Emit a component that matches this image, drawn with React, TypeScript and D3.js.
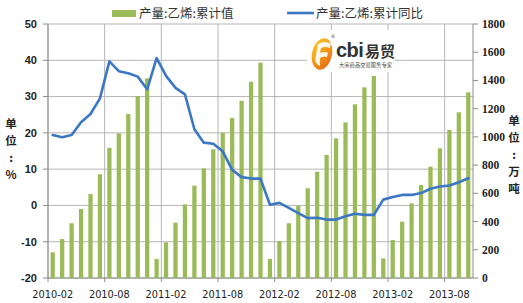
import React from "react";
import * as d3 from "d3";

const categories = [
  "2010-02","2010-03","2010-04","2010-05","2010-06","2010-07","2010-08","2010-09","2010-10","2010-11","2010-12",
  "2011-01","2011-02","2011-03","2011-04","2011-05","2011-06","2011-07","2011-08","2011-09","2011-10","2011-11","2011-12",
  "2012-01","2012-02","2012-03","2012-04","2012-05","2012-06","2012-07","2012-08","2012-09","2012-10","2012-11","2012-12",
  "2013-01","2013-02","2013-03","2013-04","2013-05","2013-06","2013-07","2013-08","2013-09","2013-10"
];

// 产量:乙烯:累计值 (万吨, right axis)
const cumulativeValue = [
  182, 276, 388, 489, 595, 735, 923, 1025, 1162, 1290, 1415,
  135, 253, 392, 522, 654, 777, 912, 1030, 1134, 1256, 1391, 1526,
  135, 262, 388, 512, 636, 753, 872, 990, 1103, 1231, 1351, 1432,
  139, 269, 399, 529, 659, 789, 919, 1049, 1174, 1316
];

// 产量:乙烯:累计同比 (%, left axis)
const cumulativeYoY = [
  19.4, 18.8, 19.4, 22.9, 25.2, 29.5, 39.7, 37.0, 36.4, 35.5, 32.0,
  40.6, 35.7, 32.4, 30.6, 21.0, 17.3, 17.0, 14.9, 9.8, 7.8, 7.4, 7.4,
  0.2, 0.7, -0.7, -2.1, -3.5, -3.4, -3.9, -3.9, -3.0, -2.3, -2.6, -2.6,
  1.6, 2.3, 2.9, 2.9, 3.4, 4.6, 5.2, 5.5, 6.4, 7.5
];

const leftTicks = [-20, -10, 0, 10, 20, 30, 40, 50];
const rightTicks = [0, 200, 400, 600, 800, 1000, 1200, 1400, 1600, 1800];
const xLabelEvery = 6;

const legendBar = "产量:乙烯:累计值";
const legendLine = "产量:乙烯:累计同比";
const leftTitle = ["单", "位", ":", "%"];
const rightTitle = ["单", "位", ":", "万", "吨"];

const W = 523, H = 303;
const L = 48, R = 473, T = 24, B = 278;
const BAR = "#9BBB59";
const LINE = "#3C77C4";
const GRID = "#b5b5b5";

export default function App() {
  const x = d3.scaleBand<string>().domain(categories).range([L, R]).paddingInner(0.55).paddingOuter(0.275);
  const step = x.step();
  const bw = x.bandwidth();
  const cx = (c: string) => (x(c) as number) + bw / 2;
  const yL = d3.scaleLinear().domain([-20, 50]).range([B, T]);
  const yR = d3.scaleLinear().domain([0, 1800]).range([B, T]);

  const line = d3.line<number>()
    .x((_, i) => cx(categories[i]))
    .y((v) => yL(v));

  const vLines: number[] = [];
  for (let i = 0; i < categories.length; i += xLabelEvery) vLines.push(L + step * i);

  const leftY = [124, 141, 158, 175];
  const rightY = [121, 138, 155, 172, 189];

  return (
    <svg width={W} height={H} style={{ position: "absolute", left: 0, top: 0, background: "#fff" }}>
      <rect x={0} y={0} width={W} height={H} fill="#fff" />
      {/* horizontal grid */}
      {leftTicks.map((t) => (
        <line key={"h" + t} x1={L} x2={R} y1={yL(t)} y2={yL(t)} stroke={GRID} strokeWidth={1} />
      ))}
      {/* vertical grid */}
      {vLines.map((v, i) => (
        <line key={"v" + i} x1={v} x2={v} y1={T} y2={B} stroke={GRID} strokeWidth={1} />
      ))}
      {/* axes */}
      <line x1={L} x2={L} y1={T} y2={B} stroke="#8c8c8c" />
      <line x1={R} x2={R} y1={T} y2={B} stroke="#8c8c8c" />
      <line x1={L} x2={R} y1={B} y2={B} stroke="#8c8c8c" />
      {leftTicks.map((t) => (
        <line key={"lt" + t} x1={L - 5} x2={L} y1={yL(t)} y2={yL(t)} stroke="#8c8c8c" />
      ))}
      {rightTicks.map((t) => (
        <line key={"rt" + t} x1={R} x2={R + 5} y1={yR(t)} y2={yR(t)} stroke="#8c8c8c" />
      ))}
      {vLines.map((v, i) => (
        <line key={"xt" + i} x1={v} x2={v} y1={B} y2={B + 4} stroke="#8c8c8c" />
      ))}

      {/* logo */}
      <g>
        <rect x={307} y={30} width={88} height={42} fill="#fff" />
        <defs>
          <linearGradient id="egg" x1="0" y1="0" x2="1" y2="1">
            <stop offset="0" stopColor="#FBD12E" />
            <stop offset="0.55" stopColor="#F39317" />
            <stop offset="1" stopColor="#E35F18" />
          </linearGradient>
        </defs>
        <ellipse cx={322} cy={54} rx={10} ry={16} fill="url(#egg)" transform="rotate(12 322 54)" />
        <path d="M318 44 Q326 40 331 44 L330 48 Q325 46 321 48 L320 53 Q325 51 328 53 L327 57 Q323 56 320 58 L320 66 Q316 64 315 60 Z" fill="#fff" opacity={0.9} />
        <text x={330.5} y={38} fontSize={5} fill="#555" fontFamily="DejaVu Sans">®</text>
        <text x={336} y={57} fontSize={20} fontWeight="bold" fill="#333" fontFamily="'Liberation Sans', Arial" letterSpacing={-0.5}>cbi</text>
        <text x={365} y={57} fontSize={15} fontWeight="bold" fill="#333" fontFamily="'Noto Sans CJK SC'">易贸</text>
        <text x={339} y={67} fontSize={5.3} fill="#444" fontFamily="'Noto Sans CJK SC'">大宗商品交易服务专家</text>
      </g>

      {/* bars */}
      {categories.map((c, i) => (
        <rect key={"b" + c} x={x(c)} y={yR(cumulativeValue[i])} width={bw} height={B - yR(cumulativeValue[i])} fill={BAR} />
      ))}

      {/* line */}
      <path d={line(cumulativeYoY) || ""} fill="none" stroke={LINE} strokeWidth={2.6} strokeLinejoin="round" strokeLinecap="round" />

      {/* left tick labels */}
      {leftTicks.map((t) => (
        <text key={"ll" + t} x={L - 11} y={yL(t)} dy="0.35em" textAnchor="end" fontSize={11} fontWeight="bold" fill="#222" fontFamily="'Liberation Sans', Arial">{t}</text>
      ))}
      {/* right tick labels */}
      {rightTicks.map((t) => (
        <text key={"rl" + t} x={R + 9} y={yR(t)} dy="0.35em" textAnchor="start" fontSize={11.5} fontWeight="bold" fill="#222" fontFamily="'Liberation Serif', 'Times New Roman'">{t}</text>
      ))}
      {/* x labels */}
      {categories.map((c, i) => i % xLabelEvery === 0 ? (
        <text key={"xl" + c} x={cx(c)} y={298} textAnchor="middle" fontSize={9.8} fill="#222" fontFamily="'DejaVu Sans', Verdana">{c}</text>
      ) : null)}

      {/* axis titles (stacked vertically) */}
      {leftTitle.map((s, i) => (
        <text key={"lt" + i} x={11} y={leftY[i]} dy="0.35em" textAnchor="middle" fontSize={11.5} fontWeight="bold" fill="#222" fontFamily="'Noto Sans CJK SC'">{s}</text>
      ))}
      {rightTitle.map((s, i) => (
        <text key={"rtt" + i} x={514} y={rightY[i]} dy="0.35em" textAnchor="middle" fontSize={11.5} fontWeight="bold" fill="#222" fontFamily="'Noto Sans CJK SC'">{s}</text>
      ))}

      {/* legend */}
      <rect x={112} y={10} width={24} height={7} fill={BAR} />
      <text x={139} y={18} fontSize={12.5} fill="#333" fontFamily="'Noto Sans CJK SC'">{legendBar}</text>
      <line x1={287} x2={314} y1={13} y2={13} stroke={LINE} strokeWidth={2.6} />
      <text x={316} y={18} fontSize={12.5} fill="#333" fontFamily="'Noto Sans CJK SC'">{legendLine}</text>
    </svg>
  );
}
